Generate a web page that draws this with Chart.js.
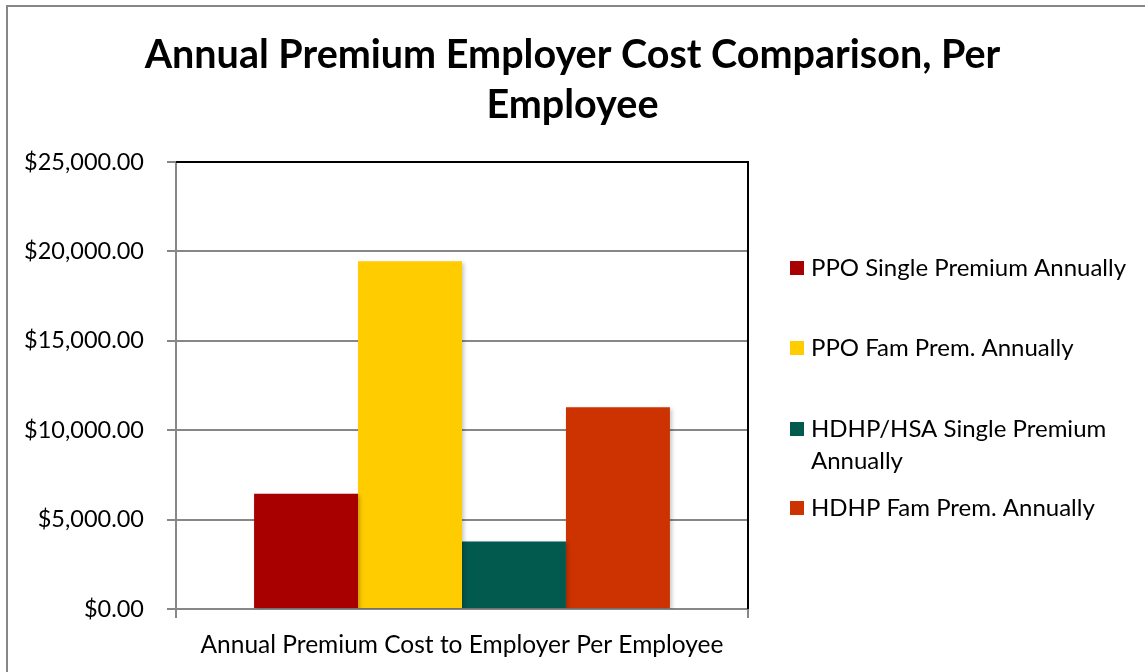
<!DOCTYPE html>
<html>
<head>
<meta charset="utf-8">
<script src="https://cdn.jsdelivr.net/npm/chart.js@4.4.1/dist/chart.umd.min.js"></script>
<style>
  html, body { margin: 0; padding: 0; background: #fff; }
  #wrap { width: 1145px; height: 672px; position: relative; }
</style>
</head>
<body>
<div id="wrap"><canvas id="chart"></canvas></div>
<script>
const categories = ["Annual Premium Cost to Employer Per Employee"];
const seriesNames = [
  "PPO Single Premium Annually",
  "PPO Fam Prem. Annually",
  "HDHP/HSA Single Premium Annually",
  "HDHP Fam Prem. Annually"
];
const ppoSingle = [6450];
const ppoFam = [19450];
const hdhpSingle = [3780];
const hdhpFam = [11280];
const seriesColors = ["#A80000", "#FFCC00", "#02594E", "#CC3300"];
const titleLines = ["Annual Premium Employer Cost Comparison, Per", "Employee"];

const FONT = "Lato, 'Open Sans', sans-serif";
const GRID = "#878787";

// page frame + white background
const framePlugin = {
  id: "frame",
  beforeDraw(chart) {
    const ctx = chart.ctx;
    ctx.save();
    ctx.fillStyle = "#fff";
    ctx.fillRect(0, 0, chart.width, chart.height);
    ctx.strokeStyle = GRID;
    ctx.lineWidth = 2;
    ctx.strokeRect(7, 6, chart.width + 20, chart.height + 20);
    ctx.restore();
  },
  beforeDatasetsDraw(chart) {
    const ctx = chart.ctx;
    ctx.save();
    ctx.shadowColor = "rgba(0,0,0,0.22)";
    ctx.shadowBlur = 4;
    ctx.shadowOffsetX = 2;
    ctx.shadowOffsetY = 2;
  },
  afterDatasetsDraw(chart) {
    chart.ctx.restore();
  },
  afterDraw(chart) {
    const { ctx, chartArea: a } = chart;
    ctx.save();
    ctx.strokeStyle = "#000";
    ctx.lineWidth = 2;
    ctx.beginPath();
    ctx.moveTo(a.left, a.top);
    ctx.lineTo(a.right, a.top);
    ctx.lineTo(a.right, a.bottom);
    ctx.stroke();
    ctx.restore();
  }
};

// right side legend, Excel style with wrapping
const sideLegend = {
  id: "sideLegend",
  afterDraw(chart, args, opts) {
    const { ctx, chartArea: a } = chart;
    const boxX = a.right + 42;
    const textX = boxX + 21;
    const maxW = chart.width - textX - 6;
    ctx.save();
    ctx.font = "24px " + FONT;
    ctx.textBaseline = "middle";
    chart.data.datasets.forEach((ds, i) => {
      const y0 = a.top + opts.offsets[i];
      ctx.fillStyle = ds.backgroundColor;
      ctx.fillRect(boxX, y0 - 7, 14, 14);
      // wrap words
      const words = ds.label.split(" ");
      const lines = [];
      let cur = "";
      words.forEach(w => {
        const t = cur ? cur + " " + w : w;
        if (ctx.measureText(t).width > maxW && cur) { lines.push(cur); cur = w; }
        else cur = t;
      });
      lines.push(cur);
      ctx.fillStyle = "#000";
      lines.forEach((l, j) => ctx.fillText(l, textX, y0 + j * 32));
    });
    ctx.restore();
  }
};

const datasets = [ppoSingle, ppoFam, hdhpSingle, hdhpFam].map((vals, i) => ({
  label: seriesNames[i],
  data: vals,
  backgroundColor: seriesColors[i],
  borderWidth: 0,
  barPercentage: 1,
  categoryPercentage: 0.727
}));

new Chart(document.getElementById("chart"), {
  type: "bar",
  data: { labels: categories, datasets },
  plugins: [framePlugin, sideLegend],
  options: {
    responsive: true,
    maintainAspectRatio: false,
    animation: false,
    devicePixelRatio: 1,
    layout: { padding: 0 },
    plugins: {
      legend: { display: false },
      tooltip: { enabled: false },
      title: {
        display: true,
        text: titleLines,
        color: "#000",
        font: { family: FONT, size: 39.5, weight: "bold", lineHeight: 1.266 },
        padding: { top: 30, bottom: 32 }
      },
      sideLegend: { offsets: [106, 186, 267, 346] }
    },
    scales: {
      x: {
        offset: true,
        grid: { display: true, drawOnChartArea: false, color: GRID, lineWidth: 2, tickLength: 9, offset: true },
        border: { color: GRID, width: 2 },
        ticks: { color: "#000", font: { family: FONT, size: 24.5 }, padding: 12 },
        afterFit(scale) { scale.height = 63; }
      },
      y: {
        min: 0,
        max: 25000,
        grid: { color: GRID, lineWidth: 2, tickLength: 9 },
        border: { color: GRID, width: 2 },
        ticks: {
          stepSize: 5000,
          color: "#000",
          font: { family: FONT, size: 23.5 },
          padding: 23,
          callback: v => "$" + v.toLocaleString("en-US", { minimumFractionDigits: 2, maximumFractionDigits: 2 })
        },
        afterFit(scale) { scale.width = 176; }
      },
      legendSpace: {
        axis: "y",
        position: "right",
        grid: { display: false },
        border: { display: false },
        ticks: { display: false },
        afterFit(scale) { scale.width = 397; }
      }
    }
  }
});
</script>
</body>
</html>
